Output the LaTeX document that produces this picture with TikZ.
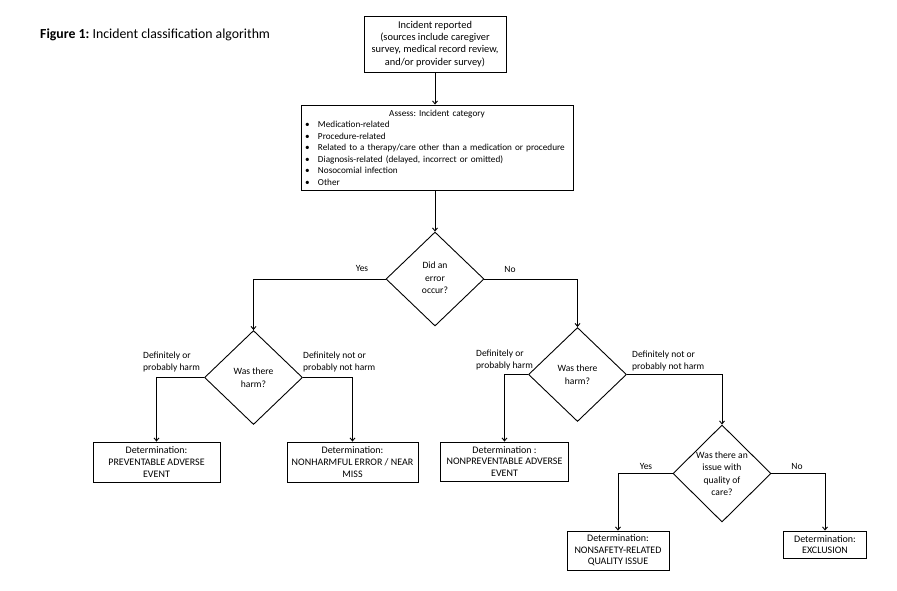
\documentclass[tikz,border=0pt]{standalone}
\usepackage{fontspec}
\setmainfont{Carlito}
\usetikzlibrary{shapes.geometric,arrows.meta}
\frenchspacing
\begin{document}
\begin{tikzpicture}[x=1pt,y=-1pt,
  txt/.style={font=\fontsize{9.5}{11.8}\selectfont},
  box/.style={draw, line width=0.9pt, align=center, font=\fontsize{10}{11.6}\selectfont, inner sep=1pt},
  dia/.style={draw, shape=diamond, line width=0.9pt, minimum width=98pt, minimum height=94pt, inner sep=0pt},
  dtext/.style={font=\fontsize{9.6}{12.5}\selectfont, align=center, inner sep=0pt},
  lbl/.style={txt, align=left, inner sep=0pt},
  arr/.style={line width=0.9pt, -{Straight Barb[length=3pt,width=5pt]}}]
\useasboundingbox (0,0) rectangle (897,590);

\node[anchor=west, font=\fontsize{13.8}{16}\selectfont, inner sep=0pt] (title) at (40,35) {\textbf{Figure 1:} Incident classification algorithm};

\node[box, minimum width=142pt, minimum height=56pt, font=\fontsize{10.4}{12.4}\selectfont] (top) at (435,44) {Incident reported\\(sources include caregiver\\survey, medical record review,\\and/or provider survey)};

\node[draw, line width=0.9pt, minimum width=272pt, minimum height=85pt, text width=264pt, inner sep=0pt, font=\fontsize{9.2}{11.5}\selectfont] (assess) at (437,147.5)
{{\centering Assess: Incident category\par}
\raggedright
\makebox[13pt][l]{\textbullet}Medication-related\par
\makebox[13pt][l]{\textbullet}Procedure-related\par
\makebox[13pt][l]{\textbullet}Related to a therapy/care other than a medication or procedure\par
\makebox[13pt][l]{\textbullet}Diagnosis-related (delayed, incorrect or omitted)\par
\makebox[13pt][l]{\textbullet}Nosocomial infection\par
\makebox[13pt][l]{\textbullet}Other\par};

\node[dia] (d1) at (435,279) {};
\node[dtext] (d1t) at (435,278) {Did an\\error\\occur?};
\node[dia] (d2) at (253.5,377.5) {};
\node[dtext] (d2t) at (d2) {Was there\\harm?};
\node[dia] (d3) at (577.5,374.5) {};
\node[dtext] (d3t) at (d3) {Was there\\harm?};
\node[dia, minimum height=97pt] (d4) at (722,473.5) {};
\node[dtext] (d4t) at (d4) {Was there an\\issue with\\quality of\\care?};

\node[box, minimum width=127pt, minimum height=40pt] (pae) at (156.5,462) {Determination:\\PREVENTABLE ADVERSE\\EVENT};
\node[box, minimum width=131pt, minimum height=40pt] (nhe) at (352.5,462) {Determination:\\NONHARMFUL ERROR / NEAR\\MISS};
\node[box, minimum width=128pt, minimum height=39pt] (npae) at (504.5,461.5) {Determination :\\NONPREVENTABLE ADVERSE\\EVENT};
\node[box, minimum width=102pt, minimum height=39pt] (nsrq) at (618,550.5) {Determination:\\NONSAFETY-RELATED\\QUALITY ISSUE};
\node[box, minimum width=83pt, minimum height=27pt] (excl) at (825,544.5) {Determination:\\EXCLUSION};

\draw[arr] (top.south) -- (top.south |- assess.north);
\draw[arr] (assess.south -| d1.north) -- (d1.north);
\draw[arr] (d1.west) -| (d2.north);
\draw[arr] (d1.east) -| (d3.north);
\draw[arr] (d2.west) -| (pae.north);
\draw[arr] (d2.east) -| (nhe.north);
\draw[arr] (d3.west) -| (npae.north);
\draw[arr] (d3.east) -| (d4.north);
\draw[arr] (d4.west) -| (nsrq.north);
\draw[arr] (d4.east) -| (excl.north);

\node[lbl] (yes1) at (362,268) {Yes};
\node[lbl] (no1) at (510,269) {No};
\node[lbl, anchor=west] (l2a) at (143,362) {Definitely or\\probably harm};
\node[lbl, anchor=west] (l2b) at (303,362) {Definitely not or\\probably not harm};
\node[lbl, anchor=west] (l3a) at (476,360) {Definitely or\\probably harm};
\node[lbl, anchor=west] (l3b) at (632,361) {Definitely not or\\probably not harm};
\node[lbl] (yes4) at (646,466) {Yes};
\node[lbl] (no4) at (797,466) {No};
\end{tikzpicture}
\end{document}
